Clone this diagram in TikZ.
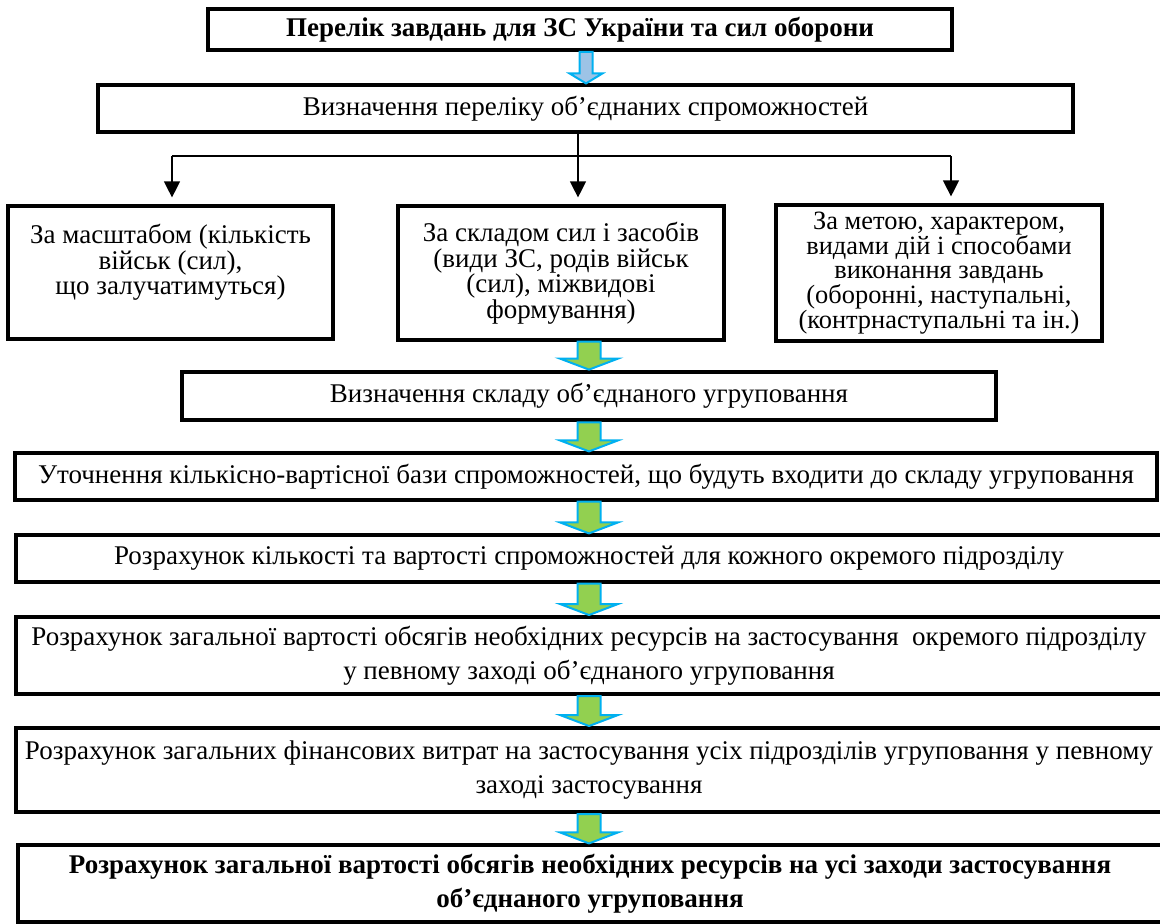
\documentclass[tikz,border=0pt]{standalone}
\usepackage{fontspec}
\setmainfont{Liberation Serif}
\usetikzlibrary{arrows.meta,calc,positioning}
\definecolor{arrowgreen}{RGB}{146,208,80}
\definecolor{arrowcyan}{RGB}{0,176,240}
\definecolor{arrowpale}{RGB}{157,195,230}

\begin{document}
\begin{tikzpicture}[x=0.5pt, y=-0.5pt,
    box/.style={draw, line width=1.6pt, align=center, inner sep=0pt, font=\fontsize{13.5}{17}\selectfont},
    thickbox/.style={box, line width=2.2pt},
    colbox/.style={box, minimum width=163pt, minimum height=67pt, font=\fontsize{13.5}{12.75}\selectfont},
    widebox/.style={box, minimum width=573pt},
    line/.style={line width=0.6pt},
    arrow/.style={line, -{Triangle[length=8pt, width=8pt]}, shorten >=3.5pt},
    blockarrow/.style n args={3}{to path={let \p1=(\tikztostart), \p2=(\tikztotarget) in
        (\x1-#1,\y1) -- (\x1-#1,\y2+#3) -- (\x1-#2,\y2+#3) -- (\x1,\y2) --
        (\x1+#2,\y2+#3) -- (\x1+#1,\y2+#3) -- (\x1+#1,\y1) -- cycle}},
    greenarrow/.style={blockarrow={5.75pt}{14.5pt}{5.5pt}, draw=arrowcyan, fill=arrowgreen, line width=1pt},
    palearrow/.style={blockarrow={3.25pt}{8.25pt}{5pt}, draw=arrowcyan, fill=arrowpale, line width=1pt}
]
\useasboundingbox (0,0) rectangle (1160,923);

% Tasks and list of capabilities
\node[thickbox, line width=1.8pt, minimum width=372pt, minimum height=20.5pt] (tasks) at (580,29.5) {\textbf{Перелік завдань для ЗС України та сил оборони}};
\node[box, minimum width=487.5pt, minimum height=23.5pt] (list) at (585.5,108.5) {Визначення переліку об’єднаних спроможностей};

% Three criteria
\node[colbox, minimum width=162.5pt, minimum height=66.5pt] (scale) at (170.5,272.5) {За масштабом (кількість\\військ (сил),\\що залучатимуться)\\~};
\node[colbox] (forces) at (561,273) {За складом сил і засобів\\(види ЗС, родів військ\\(сил), міжвидові\\формування)};
\node[colbox, minimum height=68pt, font=\fontsize{13.2}{12.4}\selectfont] (aim) at (939,273) {За метою, характером,\\видами дій і способами\\виконання завдань\\(оборонні, наступальні,\\(контрнаступальні та ін.)};

% Grouping and calculation steps
\node[thickbox, line width=2.4pt, minimum width=407pt, minimum height=24pt] (compose) at (589,396) {Визначення складу об’єднаного угруповання};
\node[box, minimum width=571pt, minimum height=23.5pt] (refine) at (586,476.5) {Уточнення кількісно-вартісної бази спроможностей, що будуть входити до складу угруповання};
\node[widebox, minimum height=23.5pt] (count) at (589,558.5) {Розрахунок кількості та вартості спроможностей для кожного окремого підрозділу};
\node[widebox, line width=2pt, minimum height=38.5pt] (unitcost) at (589,655.5) {Розрахунок загальної вартості обсягів необхідних ресурсів на застосування~ окремого підрозділу\\у певному заході об’єднаного угруповання};
\node[widebox, line width=2pt, minimum height=42pt] (total) at (589,770) {Розрахунок загальних фінансових витрат на застосування усіх підрозділів угруповання у певному\\заході застосування};
\node[box, minimum width=572pt, minimum height=38.5pt] (final) at (590,883.5) {\textbf{Розрахунок загальної вартості обсягів необхідних ресурсів на усі заходи застосування}\\\textbf{об’єднаного угруповання}};

% Branching
\coordinate (split) at (578,156);
\coordinate (leftend) at (172,156);
\coordinate (rightend) at (951,156);
\draw[line] (list.south -| split) -- (split);
\draw[line] (leftend) -- (rightend);
\draw[arrow] (leftend) -- (leftend |- scale.north);
\draw[arrow] (split) -- (split |- forces.north);
\draw[arrow] (rightend) -- (rightend |- aim.north);

% Block arrows
\coordinate (topaxis) at (586,0);
\coordinate (axis) at (589,0);
\draw[palearrow] (tasks.south -| topaxis) to (list.north -| topaxis);
\draw[greenarrow] (forces.south -| axis) to (compose.north -| axis);
\draw[greenarrow] (compose.south -| axis) to (refine.north -| axis);
\draw[greenarrow] (refine.south -| axis) to (count.north -| axis);
\draw[greenarrow] (count.south -| axis) to (unitcost.north -| axis);
\draw[greenarrow] (unitcost.south -| axis) to (total.north -| axis);
\draw[greenarrow] (total.south -| axis) to (final.north -| axis);

\end{tikzpicture}
\end{document}
